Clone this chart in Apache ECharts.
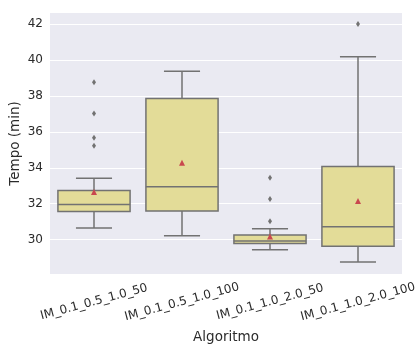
<!DOCTYPE html>
<html><head><meta charset="utf-8">
<script src="https://cdn.jsdelivr.net/npm/echarts@6/dist/echarts.min.js"></script>
<style>html,body{margin:0;padding:0;background:#fff}#c{width:420px;height:347px}</style>
</head><body><div id="c"></div>
<script>
const categories = ['IM_0.1_0.5_1.0_50','IM_0.1_0.5_1.0_100','IM_0.1_1.0_2.0_50','IM_0.1_1.0_2.0_100'];
const lowerWhisker = [30.65, 30.22, 29.44, 28.76];
const q1 = [31.57, 31.59, 29.78, 29.63];
const median = [31.96, 32.94, 29.93, 30.72];
const q3 = [32.74, 37.85, 30.26, 34.07];
const upperWhisker = [33.41, 39.37, 30.61, 40.17];
const means = [32.65, 34.28, 30.18, 32.15];
const outliers = [[0,38.76],[0,37.02],[0,35.67],[0,35.22],[2,33.44],[2,32.26],[2,31.02],[3,42.0]];
const yTicks = [30, 32, 34, 36, 38, 40, 42];

const boxData = categories.map((c, i) => [i, lowerWhisker[i], q1[i], median[i], q3[i], upperWhisker[i]]);
const FILL = '#E3DC98', EDGE = '#727272', TXT = '#2b2b2b';
const FONT = 'DejaVu Sans';

const chart = echarts.init(document.getElementById('c'), null, {renderer: 'canvas'});
chart.setOption({
  animation: false,
  backgroundColor: '#ffffff',
  grid: {left: 50, right: 18, top: 13, bottom: 73, show: true, backgroundColor: '#EAEAF2', borderWidth: 0,
    containLabel: false, outerBoundsMode: 'none'},
  xAxis: {
    type: 'category', data: categories, boundaryGap: true,
    axisLine: {show: false}, axisTick: {show: false}, splitLine: {show: false},
    axisLabel: {interval: 0, rotate: 15, align: 'center', verticalAlign: 'middle', margin: 28,
      color: TXT, fontFamily: FONT, fontSize: 12, hideOverlap: false},
    name: 'Algoritmo', nameLocation: 'middle', nameGap: 56, nameMoveOverlap: false,
    nameTextStyle: {color: TXT, fontFamily: FONT, fontSize: 13.5}
  },
  yAxis: {
    type: 'value', min: 28.09, max: 42.61,
    axisLine: {show: false},
    axisTick: {show: false, customValues: yTicks},
    axisLabel: {customValues: yTicks, margin: 7, color: TXT, fontFamily: FONT, fontSize: 12},
    splitLine: {show: true, lineStyle: {color: '#ffffff', width: 1.2}},
    name: 'Tempo (min)', nameLocation: 'middle', nameGap: 28, nameMoveOverlap: false,
    nameTextStyle: {color: TXT, fontFamily: FONT, fontSize: 13.5}
  },
  series: [
    {
      type: 'custom', data: boxData, z: 2,
      renderItem: function (params, api) {
        const i = api.value(0);
        const band = api.size([1, 0])[0];
        const hw = band * 0.41, cw = hw / 2;
        const cx = api.coord([i, 0])[0];
        const yLo = api.coord([i, api.value(1)])[1];
        const yQ1 = api.coord([i, api.value(2)])[1];
        const yMed = api.coord([i, api.value(3)])[1];
        const yQ3 = api.coord([i, api.value(4)])[1];
        const yHi = api.coord([i, api.value(5)])[1];
        const ls = {stroke: EDGE, lineWidth: 1.5, fill: null};
        return {type: 'group', children: [
          {type: 'line', shape: {x1: cx, y1: yQ1, x2: cx, y2: yLo}, style: ls},
          {type: 'line', shape: {x1: cx, y1: yQ3, x2: cx, y2: yHi}, style: ls},
          {type: 'line', shape: {x1: cx - cw, y1: yLo, x2: cx + cw, y2: yLo}, style: ls},
          {type: 'line', shape: {x1: cx - cw, y1: yHi, x2: cx + cw, y2: yHi}, style: ls},
          {type: 'rect', shape: {x: cx - hw, y: yQ3, width: 2 * hw, height: yQ1 - yQ3},
            style: {fill: FILL, stroke: EDGE, lineWidth: 1.5}},
          {type: 'line', shape: {x1: cx - hw, y1: yMed, x2: cx + hw, y2: yMed}, style: ls}
        ]};
      }
    },
    {
      type: 'scatter', data: outliers, symbol: 'diamond', symbolSize: [4, 6], z: 3,
      itemStyle: {color: EDGE, opacity: 1}
    },
    {
      type: 'scatter', data: means.map((m, i) => [i, m]), symbol: 'triangle', symbolSize: [6, 6], z: 4,
      itemStyle: {color: '#C9484E', opacity: 1}
    }
  ]
});
</script></body></html>
